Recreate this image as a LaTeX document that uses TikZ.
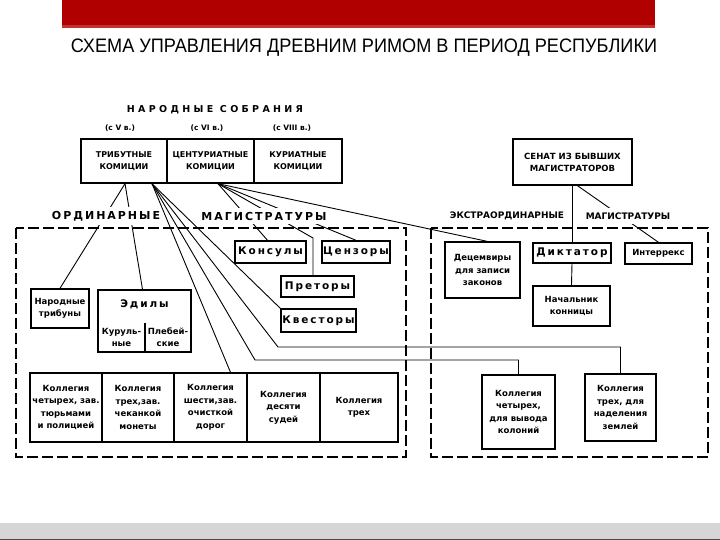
\documentclass[tikz,border=0pt]{standalone}
\usepackage{fontspec}
\setmainfont{DejaVu Sans}
\newfontfamily\titlefont{Liberation Sans}
\newfontfamily\widefont[LetterSpace=18]{DejaVu Sans}
\newfontfamily\widerfont[LetterSpace=35]{DejaVu Sans}
\usetikzlibrary{positioning,calc}
\definecolor{slidered}{RGB}{176,0,0}
\definecolor{slidegray}{RGB}{214,214,214}
\begin{document}
\begin{tikzpicture}[x=1pt, y=-1pt,
  box/.style={draw, line width=1.4pt, fill=white, align=center, inner sep=1pt, font=\fontsize{8.5}{12.5}\selectfont\bfseries},
  capbox/.style={box, font=\fontsize{8}{11.5}\selectfont\bfseries},
  spacedbox/.style={box, font=\widefont\fontsize{10.5}{12}\selectfont\bfseries},
  head/.style={fill=white, inner xsep=1pt, inner ysep=4pt, font=\widefont\fontsize{11}{12}\selectfont\bfseries},
  exhead/.style={fill=white, inner xsep=1pt, inner ysep=5pt, font=\fontsize{9}{10}\selectfont\bfseries},
  link/.style={line width=0.9pt},
  zone/.style={line width=1.1pt, dash pattern=on 11pt off 4pt}]
\useasboundingbox (0,0) rectangle (720,540);
\fill[slidered] (62,0) rectangle (655,28);
\fill[slidered!80!white] (62,25) rectangle (655,28);
\node[font=\titlefont\fontsize{19.5}{19.5}\selectfont] (title) at (364,48) {\scalebox{0.93}[1]{СХЕМА УПРАВЛЕНИЯ ДРЕВНИМ РИМОМ В ПЕРИОД РЕСПУБЛИКИ}};
\fill[slidegray] (0,523) rectangle (720,540);
\draw[gray!60!black, line width=1pt] (0,539.5) -- (720,539.5);

\draw[zone] (16,228) rectangle (406,457);
\draw[zone] (431,228) rectangle (708,457);

\node[capbox, minimum width=86pt, minimum height=44pt] (trib) at (124,161) {ТРИБУТНЫЕ\\КОМИЦИИ};
\node[capbox, minimum width=87pt, minimum height=44pt] (cent) at (210.5,161) {ЦЕНТУРИАТНЫЕ\\КОМИЦИИ};
\node[capbox, minimum width=88pt, minimum height=44pt] (curi) at (298,161) {КУРИАТНЫЕ\\КОМИЦИИ};
\node[capbox, font=\fontsize{8.5}{12}\selectfont\bfseries, minimum width=119pt, minimum height=46pt] (senate) at (572.5,162) {СЕНАТ ИЗ БЫВШИХ\\МАГИСТРАТОРОВ};

\node[spacedbox, minimum width=71pt, minimum height=22pt] (consuls) at (270.5,252) {Консулы};
\node[spacedbox, minimum width=68pt, minimum height=22pt] (censors) at (356,252) {Цензоры};
\node[spacedbox, minimum width=73pt, minimum height=21pt] (praetors) at (317.5,286.5) {Преторы};
\node[spacedbox, minimum width=75pt, minimum height=23pt] (quaestors) at (318.5,320.5) {Квесторы};
\node[box, minimum width=58pt, minimum height=39pt] (tribunes) at (60,308.5) {Народные\\трибуны};
\node[box, minimum width=93pt, minimum height=62pt] (aediles) at (144.5,321) {};
\node[font=\widefont\fontsize{10.5}{12}\selectfont\bfseries] (aedtitle) at (144.5,304) {Эдилы};
\draw[line width=1.4pt] ([xshift=0.5pt]aediles.south) -- ++(0,-30);
\node[font=\fontsize{8.5}{12}\selectfont\bfseries, align=center] (curule) at (121.5,337) {Куруль-\\ные};
\node[font=\fontsize{8.5}{12}\selectfont\bfseries, align=center] (plebeian) at (168,337) {Плебей-\\ские};

\node[box, minimum width=75pt, minimum height=56pt] (decemvirs) at (482.5,270) {Децемвиры\\для записи\\законов};
\node[spacedbox, minimum width=78pt, minimum height=20pt] (dictator) at (572,253) {Диктатор};
\node[box, minimum width=77pt, minimum height=40pt] (magister) at (571.5,306) {Начальник\\конницы};
\node[box, minimum width=67pt, minimum height=21pt] (interrex) at (658.5,253.5) {Интеррекс};

\node[box, minimum width=72pt, minimum height=69pt] (colprisons) at (66,407.5) {Коллегия\\четырех, зав.\\тюрьмами\\и полицией};
\node[box, minimum width=72pt, minimum height=69pt] (colcoins) at (138,407.5) {Коллегия\\трех,зав.\\чеканкой\\монеты};
\node[box, minimum width=73pt, minimum height=69pt] (colroads) at (210.5,407.5) {Коллегия\\шести,зав.\\очисткой\\дорог};
\node[box, minimum width=73pt, minimum height=69pt] (coljudges) at (283.5,407.5) {Коллегия\\десяти\\судей};
\node[box, minimum width=78pt, minimum height=69pt] (colthree) at (359,407.5) {Коллегия\\трех};
\node[box, minimum width=73pt, minimum height=74pt] (colonies) at (518.5,412) {Коллегия\\четырех,\\для вывода\\колоний};
\node[box, minimum width=71pt, minimum height=67pt] (lands) at (620.5,407.5) {Коллегия\\трех, для\\наделения\\землей};

\coordinate (tribL) at ([xshift=1pt]trib.south);
\coordinate (tribR) at ([xshift=28pt]trib.south);
\coordinate (centO) at ([xshift=7.5pt]cent.south);
\coordinate (landsbend) at (278,347);
\coordinate (colbend) at (255,360);
\coordinate (praebend) at (313,238);

\draw[link] (tribL) -- (tribunes.north);
\draw[link] (tribL) -- ([xshift=-2pt]aediles.north);
\draw[link] (tribR) -- (quaestors.north west);
\draw[link] (tribR) -- (landsbend) -| (lands.north);
\draw[link] (tribR) -- (colbend) -| (colonies.north);
\draw[link] (tribR) -- ([xshift=20pt]colroads.north);
\draw[link] (centO) -- ([xshift=-3pt]consuls.north);
\draw[link] (centO) -- (praebend) -- (praebend |- praetors.north);
\draw[link] (centO) -- (censors.north);
\draw[link] (centO) -- ([xshift=4.5pt]decemvirs.north);
\draw[link] (senate.south) -- (senate.south |- dictator.north);
\draw[link] ([xshift=5pt]senate.south) -- (interrex.north);
\draw[link] (dictator.south) -- (magister.north);

\node[font=\widerfont\fontsize{9.5}{10}\selectfont\bfseries] (assembly) at (215,110) {НАРОДНЫЕ СОБРАНИЯ};
\node[font=\fontsize{7.5}{9}\selectfont\bfseries] (since5) at (120,128) {(с V в.)};
\node[font=\fontsize{7.5}{9}\selectfont\bfseries] (since6) at (207,128) {(с VI в.)};
\node[font=\fontsize{7.5}{9}\selectfont\bfseries] (since8) at (292,128) {(с VIII в.)};
\node[head] (ordlabel) at (106,216) {ОРДИНАРНЫЕ};
\node[head] (maglabel) at (264,216) {МАГИСТРАТУРЫ};
\node[exhead] (extlabel) at (507,216) {ЭКСТРАОРДИНАРНЫЕ};
\node[exhead] (exmaglabel) at (628,216) {МАГИСТРАТУРЫ};
\end{tikzpicture}
\end{document}
